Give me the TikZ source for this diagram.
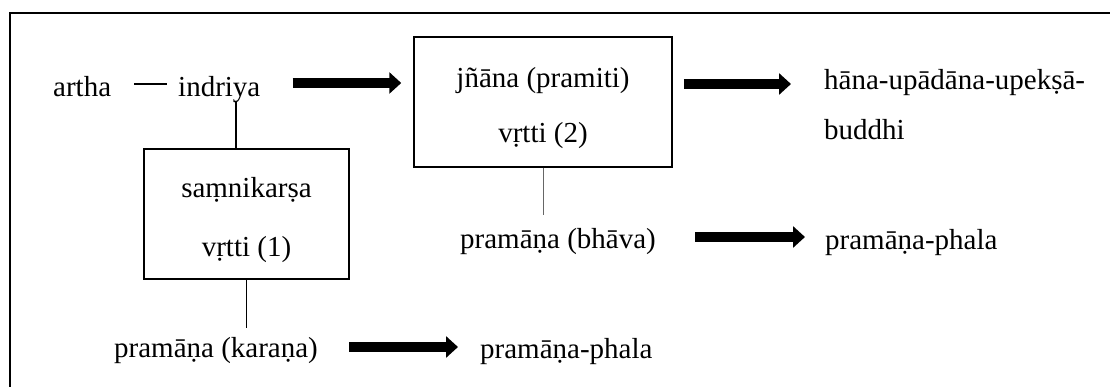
\documentclass[tikz,border=0pt]{standalone}
\usepackage{fontspec}
\setmainfont{Liberation Serif}
\usetikzlibrary{arrows.meta,calc}
\begin{document}
\begin{tikzpicture}[x=1pt,y=-1pt,
  lbl/.style={inner sep=0pt,font=\fontsize{29}{34}\selectfont},
  boxst/.style={draw,line width=1.5pt,inner sep=0pt},
  link/.style={line width=1.5pt},
  thinlink/.style={line width=1pt,draw=black!60},
  bigarrow/.style={line width=10pt,-{Triangle[length=12pt,width=21pt]}}]
\useasboundingbox (0,0) rectangle (1110,387);
% frame
\draw[line width=2pt] (10,388) -- (10,13) -- (1111,13);
% boxes
\node[boxst,minimum width=205pt,minimum height=130pt] (b1) at (246.5,214) {};
\node[boxst,minimum width=258pt,minimum height=130pt] (b2) at (543,102) {};
% texts
\node[lbl,anchor=base west] (artha) at (53,97) {artha};
\node[lbl,anchor=base west] (indriya) at (178,97) {indriya};
\node[lbl,anchor=base] (sam) at (246.5,198) {saṃnikarṣa};
\node[lbl,anchor=base] (v1) at (246.5,257) {vṛtti (1)};
\node[lbl,anchor=base] (jn) at (543,88) {jñāna (pramiti)};
\node[lbl,anchor=base] (v2) at (543,143) {vṛtti (2)};
\node[lbl,anchor=base west] (hana) at (824,90) {hāna-upādāna-upekṣā-};
\node[lbl,anchor=base west] (bud) at (824,140) {buddhi};
\node[lbl,anchor=base west] (pbh) at (460,249) {pramāṇa (bhāva)};
\node[lbl,anchor=base west] (ph2) at (825,250) {pramāṇa-phala};
\node[lbl,anchor=base west] (pka) at (114,357) {pramāṇa (karaṇa)};
\node[lbl,anchor=base west] (ph1) at (480,358) {pramāṇa-phala};
% plain links
\draw[link] ($(artha.base east)+(23,-13)$) -- ($(indriya.base west)+(-11,-13)$);
\draw[link] ($(b1.north)+(-10.5,-47)$) -- ($(b1.north)+(-10.5,0)$);
\draw[link] (b1.south) -- ($(b1.south)+(0,48)$);
\draw[thinlink] (b2.south) -- ($(b2.south)+(0,47)$);
% arrows
\draw[bigarrow] ($(indriya.base east)+(32,-14)$) -- ($(b2.west |- indriya.base)+(-12,-14)$);
\draw[bigarrow] ($(b2.east |- hana.base)+(11,-6)$) -- ($(hana.base west)+(-33,-6)$);
\draw[bigarrow] ($(pbh.base east)+(39,-12)$) -- ($(ph2.base west |- pbh.base)+(-20,-12)$);
\draw[bigarrow] ($(pka.base east)+(31,-10)$) -- ($(ph1.base west |- pka.base)+(-22,-10)$);
\end{tikzpicture}
\end{document}
